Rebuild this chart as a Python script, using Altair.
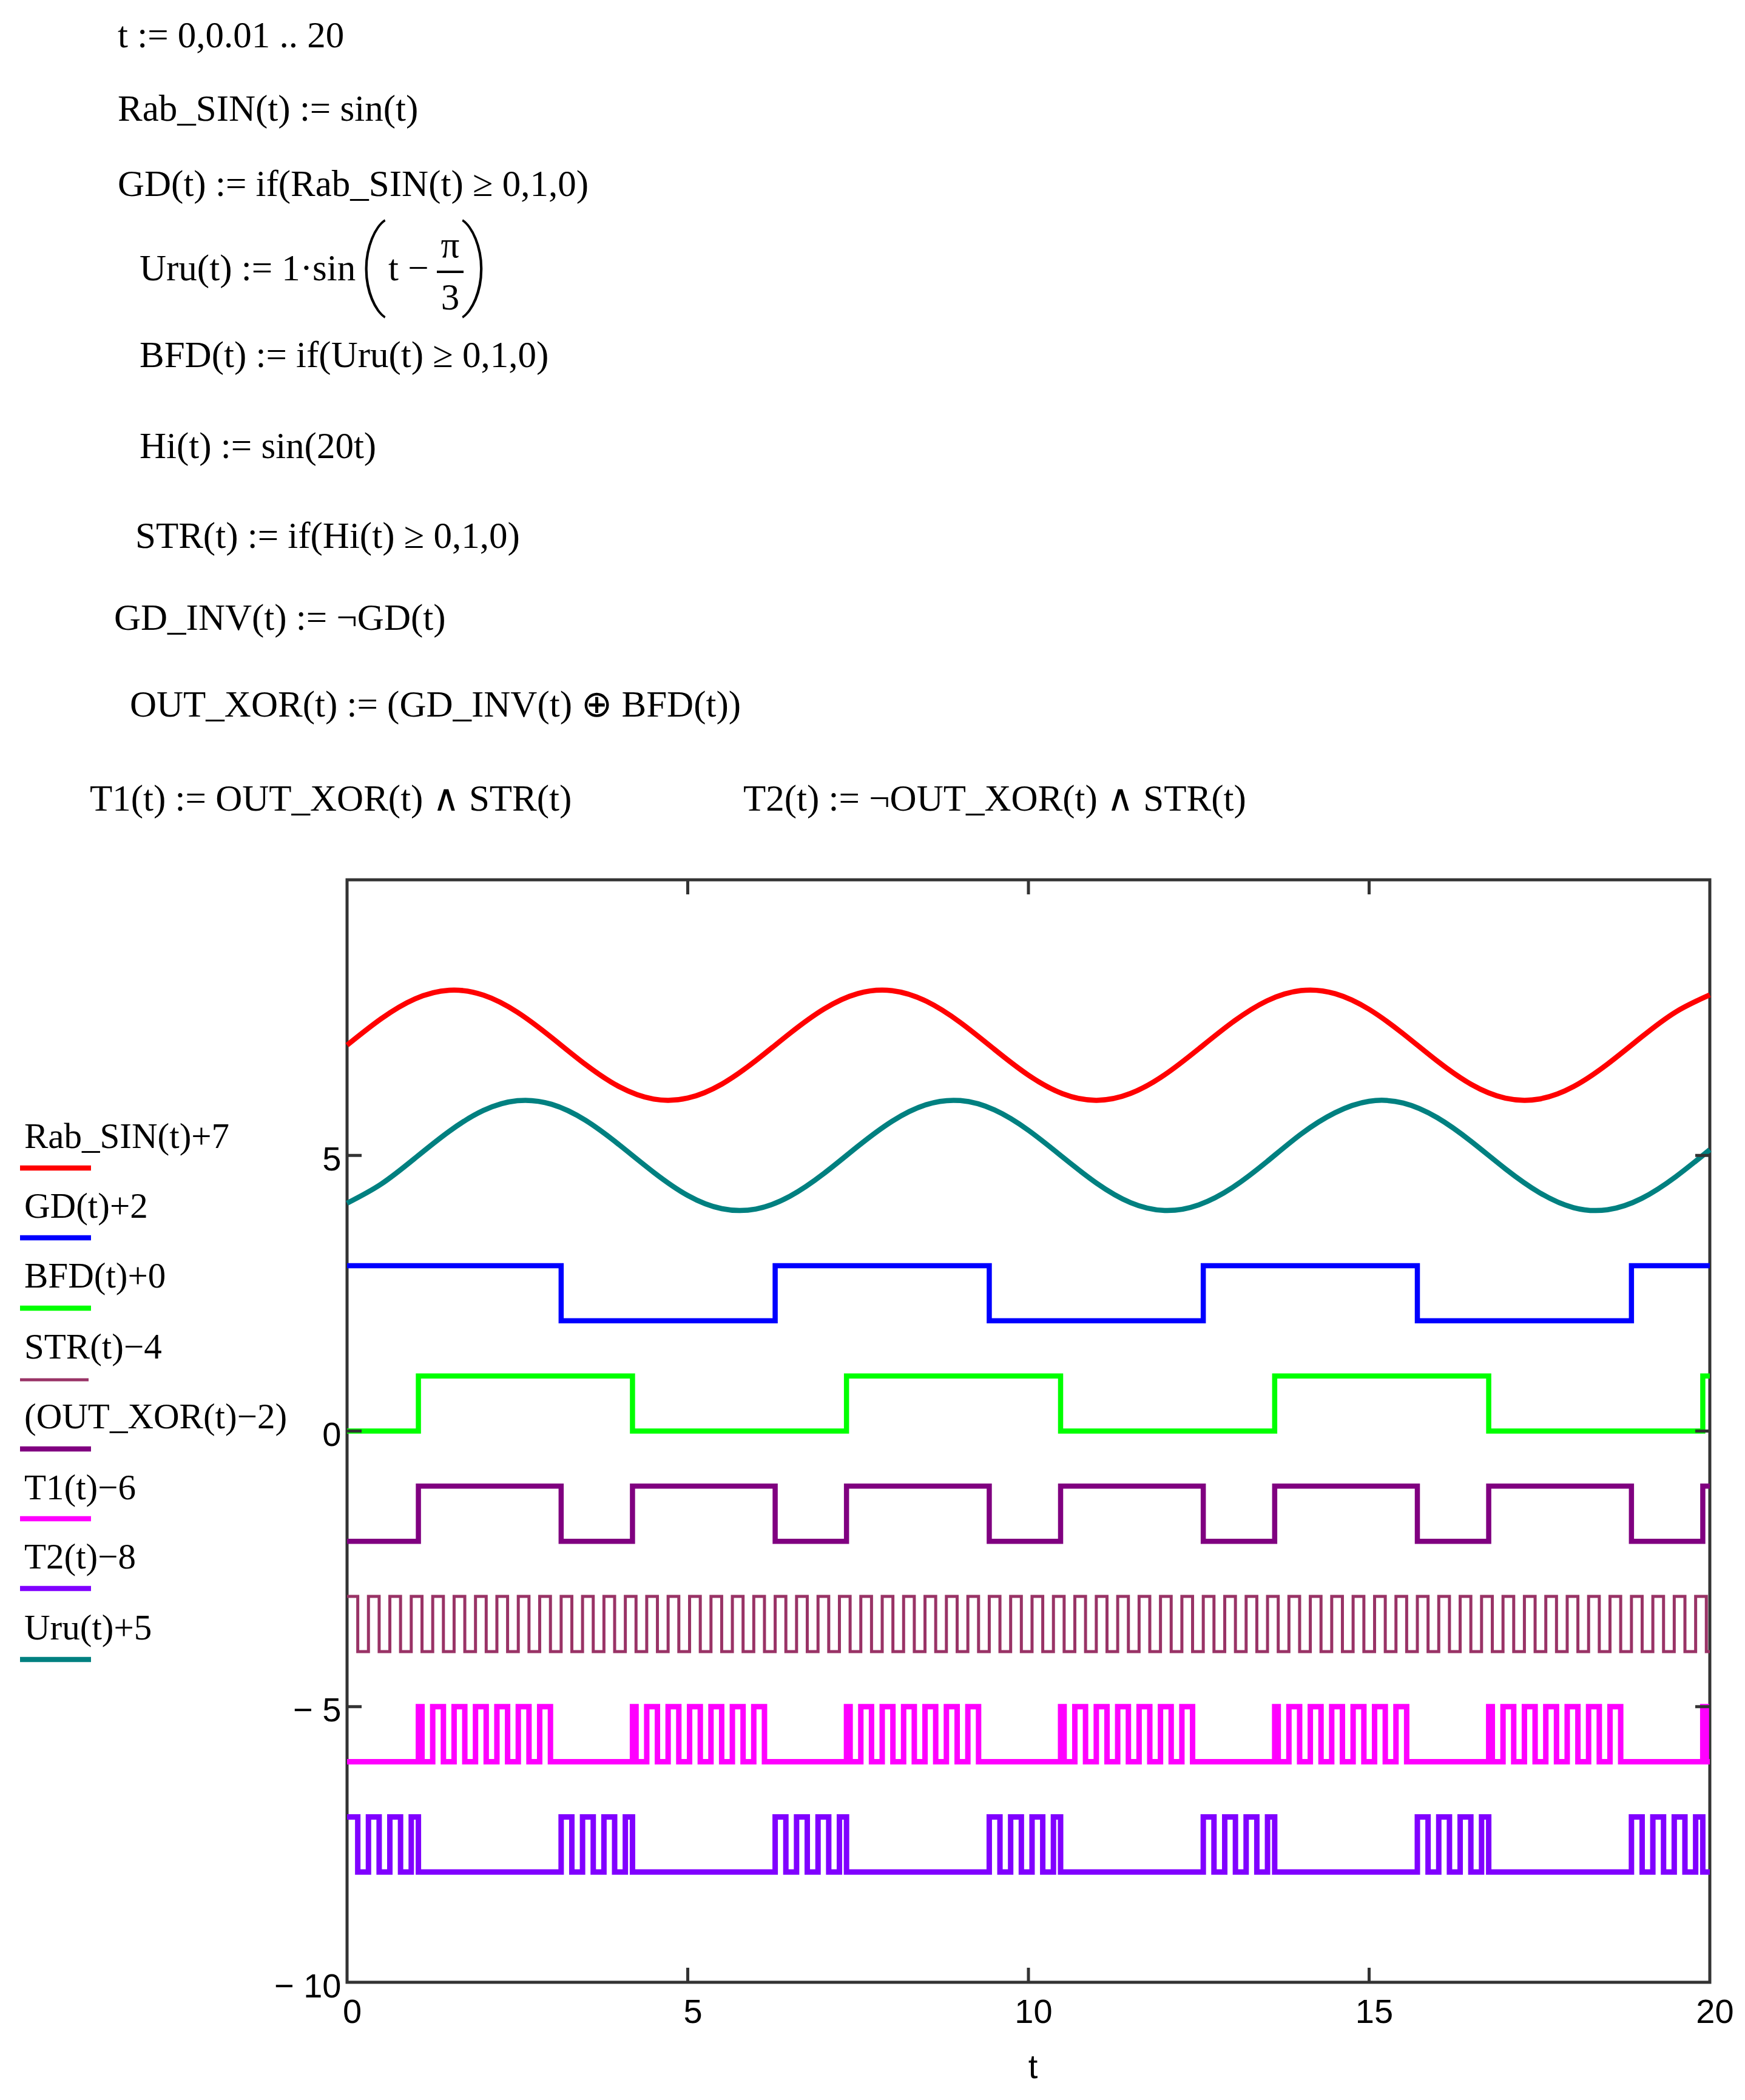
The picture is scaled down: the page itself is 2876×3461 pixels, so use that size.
import altair as alt
import pandas as pd

# ---------------- data ----------------
T_SAMPLES = [0.0, 0.5, 1.0, 1.5, 2.0, 2.5, 3.0, 3.5, 4.0, 4.5, 5.0, 5.5, 6.0, 6.5,
             7.0, 7.5, 8.0, 8.5, 9.0, 9.5, 10.0, 10.5, 11.0, 11.5, 12.0, 12.5, 13.0,
             13.5, 14.0, 14.5, 15.0, 15.5, 16.0, 16.5, 17.0, 17.5, 18.0, 18.5, 19.0,
             19.5, 20.0]
RAB_SIN = [0.000, 0.479, 0.841, 0.997, 0.909, 0.598, 0.141, -0.351, -0.757, -0.978,
           -0.959, -0.706, -0.279, 0.215, 0.657, 0.938, 0.989, 0.798, 0.412, -0.075,
           -0.544, -0.880, -1.000, -0.875, -0.537, -0.066, 0.420, 0.804, 0.991, 0.935,
           0.650, 0.207, -0.288, -0.712, -0.961, -0.976, -0.751, -0.342, 0.150, 0.603,
           0.913]
URU = [-0.866, -0.520, -0.047, 0.438, 0.815, 0.993, 0.928, 0.636, 0.187, -0.306,
       -0.726, -0.966, -0.972, -0.740, -0.326, 0.169, 0.621, 0.921, 0.995, 0.826,
       0.455, -0.028, -0.503, -0.857, -0.999, -0.896, -0.578, -0.113, 0.387, 0.775,
       0.983, 0.951, 0.685, 0.252, -0.243, -0.675, -0.947, -0.985, -0.780, -0.386,
       0.104]

# switching instants of the logic signals
GD_START = 1
GD_EDGES = [3.142, 6.283, 9.425, 12.566, 15.708, 18.850]
BFD_START = 0
BFD_EDGES = [1.047, 4.189, 7.330, 10.472, 13.614, 16.755, 19.897]
STR_RISES = [0.0, 0.314, 0.628, 0.942, 1.257, 1.571, 1.885, 2.199, 2.513, 2.827,
             3.142, 3.456, 3.770, 4.084, 4.398, 4.712, 5.027, 5.341, 5.655, 5.969,
             6.283, 6.597, 6.912, 7.226, 7.540, 7.854, 8.168, 8.482, 8.796, 9.111,
             9.425, 9.739, 10.053, 10.367, 10.681, 10.996, 11.310, 11.624, 11.938, 12.252,
             12.566, 12.881, 13.195, 13.509, 13.823, 14.137, 14.451, 14.765, 15.080, 15.394,
             15.708, 16.022, 16.336, 16.650, 16.965, 17.279, 17.593, 17.907, 18.221, 18.535,
             18.850, 19.164, 19.478, 19.792]
STR_FALLS = [0.157, 0.471, 0.785, 1.100, 1.414, 1.728, 2.042, 2.356, 2.670, 2.985,
             3.299, 3.613, 3.927, 4.241, 4.555, 4.869, 5.184, 5.498, 5.812, 6.126,
             6.440, 6.754, 7.069, 7.383, 7.697, 8.011, 8.325, 8.639, 8.954, 9.268,
             9.582, 9.896, 10.210, 10.524, 10.838, 11.153, 11.467, 11.781, 12.095, 12.409,
             12.723, 13.038, 13.352, 13.666, 13.980, 14.294, 14.608, 14.923, 15.237, 15.551,
             15.865, 16.179, 16.493, 16.808, 17.122, 17.436, 17.750, 18.064, 18.378, 18.692,
             19.007, 19.321, 19.635, 19.949]

SERIES = ["Rab_SIN(t)+7", "GD(t)+2", "BFD(t)+0", "STR(t)\u22124",
          "(OUT_XOR(t)\u22122)", "T1(t)\u22126", "T2(t)\u22128", "Uru(t)+5"]
OFFSETS = [7, 2, 0, -4, -2, -6, -8, 5]
COLORS = ["#ff0000", "#0000ff", "#00ff00", "#993366",
          "#800080", "#ff00ff", "#8000ff", "#008080"]

X_TICKS = [0, 5, 10, 15, 20]
Y_TICKS = [-10, -5, 0, 5]
INNER_X_TICKS = [5, 10, 15]
INNER_Y_TICKS = [-5, 0, 5]

# ---------------- logic combination of the signals ----------------
def toggles(start, edges):
    ch = [(0.0, start)]
    v = start
    for e in edges:
        v = 1 - v
        ch.append((e, v))
    return ch


def value_at(ch, t):
    v = ch[0][1]
    for tt, vv in ch:
        if tt <= t:
            v = vv
        else:
            break
    return v


gd_ch = toggles(GD_START, GD_EDGES)
bfd_ch = toggles(BFD_START, BFD_EDGES)
str_ch = sorted([(t, 1) for t in STR_RISES] + [(t, 0) for t in STR_FALLS])
times = sorted(set([c[0] for c in gd_ch + bfd_ch + str_ch]))
xor_ch = [(t, (1 - value_at(gd_ch, t)) ^ value_at(bfd_ch, t)) for t in times]
t1_ch = [(t, value_at(xor_ch, t) & value_at(str_ch, t)) for t in times]
t2_ch = [(t, (1 - value_at(xor_ch, t)) & value_at(str_ch, t)) for t in times]


def step_df(ch, offset):
    pts = []
    for t, v in ch:
        if pts and pts[-1][1] == v:
            continue
        pts.append((t, v))
    pts.append((20.0, pts[-1][1]))
    return pd.DataFrame({"t": [p[0] for p in pts], "v": [p[1] + offset for p in pts]})


def curve_df(vals, offset):
    return pd.DataFrame({"t": T_SAMPLES, "v": [v + offset for v in vals]})


# ---------------- layout ----------------
X0, Y0 = 572, 1450           # page position of plot area
W, H = 2246, 1817
TICK = 24
FRAME = "#333333"
SERIF = "Liberation Serif"
AXFONT = "Liberation Sans Narrow, Liberation Sans, sans-serif"

x_axis = alt.Axis(values=X_TICKS, domain=False, ticks=False, grid=False,
                  labelFont=AXFONT, labelFontSize=56, labelColor="black",
                  labelPadding=22, labelOffset=8, labelFlush=False,
                  title="t", titleFont=AXFONT, titleFontSize=56,
                  titleFontWeight="normal", titleColor="black",
                  titleX=1130, titleY=140, titleBaseline="middle", titleAlign="center")
y_axis = alt.Axis(values=Y_TICKS, domain=False, ticks=False, grid=False,
                  labelFont=AXFONT, labelFontSize=56, labelColor="black",
                  labelPadding=10, labelOffset=7, labelFlush=False,
                  labelExpr="datum.value < 0 ? '\u2212 ' + format(-datum.value, 'd') : datum.label",
                  title=None)
X_ENC = alt.X("t:Q", scale=alt.Scale(domain=[0, 20], nice=False, zero=False), axis=x_axis)
Y_ENC = alt.Y("v:Q", scale=alt.Scale(domain=[-10, 10], nice=False, zero=False), axis=y_axis)


def line(df, color, width, interp):
    return alt.Chart(df).mark_line(color=color, strokeWidth=width, interpolate=interp,
                                   strokeJoin="miter").encode(x=X_ENC, y=Y_ENC)


LW = 8.5
layers = [
    line(step_df(str_ch, OFFSETS[3]), COLORS[3], 5, "step-after"),
    line(step_df(t2_ch, OFFSETS[6]), COLORS[6], 9, "step-after"),
    line(step_df(t1_ch, OFFSETS[5]), COLORS[5], 9, "step-after"),
    line(step_df(xor_ch, OFFSETS[4]), COLORS[4], LW, "step-after"),
    line(step_df(bfd_ch, OFFSETS[2]), COLORS[2], LW, "step-after"),
    line(step_df(gd_ch, OFFSETS[1]), COLORS[1], LW, "step-after"),
    line(curve_df(URU, OFFSETS[7]), COLORS[7], LW, "natural"),
    line(curve_df(RAB_SIN, OFFSETS[0]), COLORS[0], LW, "natural"),
]

# inward ticks on all four sides
xt = pd.DataFrame({"t": INNER_X_TICKS})
yt = pd.DataFrame({"v": INNER_Y_TICKS})
tick_style = dict(color=FRAME, strokeWidth=5)
layers += [
    alt.Chart(xt).mark_rule(**tick_style).encode(x=X_ENC, y=alt.value(0), y2=alt.value(TICK)),
    alt.Chart(xt).mark_rule(**tick_style).encode(x=X_ENC, y=alt.value(H - TICK), y2=alt.value(H)),
    alt.Chart(yt).mark_rule(**tick_style).encode(y=Y_ENC, x=alt.value(0), x2=alt.value(TICK)),
    alt.Chart(yt).mark_rule(**tick_style).encode(y=Y_ENC, x=alt.value(W - TICK), x2=alt.value(W)),
]

ONE = pd.DataFrame({"a": [0]})


def txt(s, x, y, size=61, align="left", font=SERIF, baseline="middle", weight="normal"):
    return alt.Chart(ONE).mark_text(text=s, align=align, baseline=baseline, font=font,
                                    fontSize=size, fontWeight=weight, color="black").encode(
        x=alt.value(x - X0), y=alt.value(y - Y0))


def hrule(x1, x2, y, color, width):
    return alt.Chart(ONE).mark_rule(color=color, strokeWidth=width).encode(
        x=alt.value(x1 - X0), x2=alt.value(x2 - X0), y=alt.value(y - Y0))


PAREN_FONT = "Roboto, DejaVu Sans, sans-serif"
# formulas above the chart
layers += [
    txt("t := 0,0.01 .. 20", 194, 60),
    txt("Rab_SIN(t) := sin(t)", 194, 181),
    txt("GD(t) := if(Rab_SIN(t) \u2265 0,1,0)", 194, 305),
    txt("Uru(t) := 1\u00b7sin", 230, 444),
    txt("(", 590, 440, size=160, font=PAREN_FONT, weight=100),
    txt("t \u2212", 640, 444),
    txt("\u03c0", 742, 406, align="center"),
    hrule(720, 764, 448, "black", 4),
    txt("3", 742, 492, align="center"),
    txt(")", 808, 440, size=160, align="right", font=PAREN_FONT, weight=100),
    txt("BFD(t) := if(Uru(t) \u2265 0,1,0)", 230, 587),
    txt("Hi(t) := sin(20t)", 230, 737),
    txt("STR(t) := if(Hi(t) \u2265 0,1,0)", 223, 885),
    txt("GD_INV(t) := \u00acGD(t)", 188, 1020),
    txt("OUT_XOR(t) := (GD_INV(t) \u2295 BFD(t))", 214, 1163),
    txt("T1(t) := OUT_XOR(t) \u2227 STR(t)", 148, 1318),
    txt("T2(t) := \u00acOUT_XOR(t) \u2227 STR(t)", 1225, 1318),
]

# legend on the left
LEG_LABEL_Y = [1874, 1989, 2104, 2221, 2336, 2453, 2567, 2684]
LEG_LINE_Y = [1925, 2040, 2156, 2274, 2388, 2503, 2618, 2735]
for i, name in enumerate(SERIES):
    layers.append(txt(name, 40, LEG_LABEL_Y[i], size=59))
    layers.append(hrule(33, 150 if i != 3 else 146, LEG_LINE_Y[i], COLORS[i],
                        5 if i == 3 else LW))

chart = alt.layer(*layers).properties(
    width=W, height=H,
    autosize=alt.AutoSizeParams(type="none"),
    padding={"left": X0 - 8, "top": Y0 - 8, "right": 42, "bottom": 192},
    background="white",
).configure_view(stroke=FRAME, strokeWidth=5)

chart.save("out.html", embed_options={"renderer": "svg", "actions": False})
